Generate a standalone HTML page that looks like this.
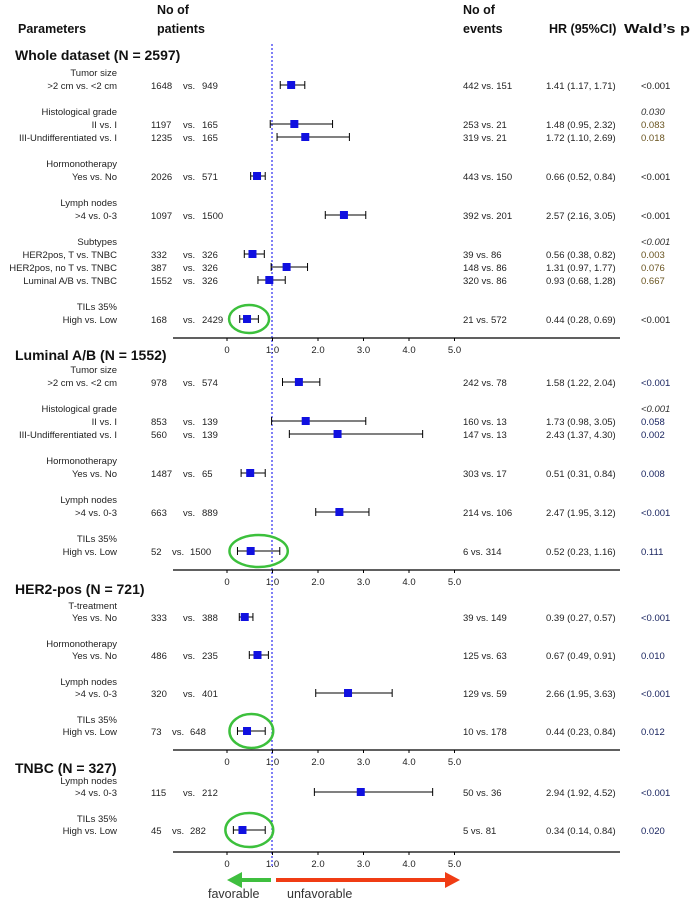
<!DOCTYPE html>
<html><head><meta charset="utf-8">
<style>
html,body{margin:0;padding:0;background:#fff;}
svg{display:block;font-family:"Liberation Sans",sans-serif;}
</style></head>
<body>
<svg id="plot" width="695" height="904" viewBox="0 0 695 904">
  <g font-weight="bold" font-size="12.5" fill="#111">
    <text x="18" y="33">Parameters</text>
    <text x="157" y="14">No of</text>
    <text x="157" y="33">patients</text>
    <text x="463" y="14">No of</text>
    <text x="463" y="33">events</text>
    <text x="549" y="33">HR (95%CI)</text>
    <text x="624" y="33" textLength="66" lengthAdjust="spacingAndGlyphs">Wald’s p</text>
  </g>
  <line x1="272" y1="44" x2="272" y2="866" stroke="#0000ee" stroke-width="1" stroke-dasharray="2,2"/>
  <g id="content"></g>
  <g>
    <line x1="240" y1="880" x2="271" y2="880" stroke="#3fbf3f" stroke-width="4"/>
    <polygon points="227,880 242,872 242,888" fill="#3fbf3f"/>
    <line x1="276" y1="880" x2="445" y2="880" stroke="#f03c14" stroke-width="4"/>
    <polygon points="460,880 445,872 445,888" fill="#f03c14"/>
    <text x="208" y="898" font-size="12.5" fill="#333">favorable</text>
    <text x="287" y="898" font-size="12.5" fill="#333">unfavorable</text>
  </g>
</svg>
<script>
// ---- data ----
var sectionTitles = ["Whole dataset (N = 2597)","Luminal A/B (N = 1552)","HER2-pos (N = 721)","TNBC (N = 327)"];
var sectionOf = [0,0,0,0,0,0,0,0,0, 1,1,1,1,1,1, 2,2,2,2, 3,3];
var groupLabels = ["Tumor size","Histological grade","","Hormonotherapy","Lymph nodes","Subtypes","","","TILs 35%",
 "Tumor size","Histological grade","","Hormonotherapy","Lymph nodes","TILs 35%",
 "T-treatment","Hormonotherapy","Lymph nodes","TILs 35%",
 "Lymph nodes","TILs 35%"];
var rowLabels = [">2 cm vs. <2 cm","II vs. I","III-Undifferentiated vs. I","Yes vs. No",">4 vs. 0-3","HER2pos, T vs. TNBC","HER2pos, no T vs. TNBC","Luminal A/B vs. TNBC","High vs. Low",
 ">2 cm vs. <2 cm","II vs. I","III-Undifferentiated vs. I","Yes vs. No",">4 vs. 0-3","High vs. Low",
 "Yes vs. No","Yes vs. No",">4 vs. 0-3","High vs. Low",
 ">4 vs. 0-3","High vs. Low"];
var patients1 = [1648,1197,1235,2026,1097,332,387,1552,168, 978,853,560,1487,663,52, 333,486,320,73, 115,45];
var patients2 = [949,165,165,571,1500,326,326,326,2429, 574,139,139,65,889,1500, 388,235,401,648, 212,282];
var events1 = [442,253,319,443,392,39,148,320,21, 242,160,147,303,214,6, 39,125,129,10, 50,5];
var events2 = [151,21,21,150,201,86,86,86,572, 78,13,13,17,106,314, 149,63,59,178, 36,81];
var hrValues = [1.41,1.48,1.72,0.66,2.57,0.56,1.31,0.93,0.44, 1.58,1.73,2.43,0.51,2.47,0.52, 0.39,0.67,2.66,0.44, 2.94,0.34];
var ciLow = [1.17,0.95,1.10,0.52,2.16,0.38,0.97,0.68,0.28, 1.22,0.98,1.37,0.31,1.95,0.23, 0.27,0.49,1.95,0.23, 1.92,0.14];
var ciHigh = [1.71,2.32,2.69,0.84,3.05,0.82,1.77,1.28,0.69, 2.04,3.05,4.30,0.84,3.12,1.16, 0.57,0.91,3.63,0.84, 4.52,0.84];
var pValues = ["<0.001","0.083","0.018","<0.001","<0.001","0.003","0.076","0.667","<0.001",
 "<0.001","0.058","0.002","0.008","<0.001","0.111",
 "<0.001","0.010","<0.001","0.012",
 "<0.001","0.020"];
var groupP = ["","0.030","","","","<0.001","","","", "","<0.001","","","","", "","","","", "",""];
var highlighted = [8,14,18,20];
var tickValues = [0,1,2,3,4,5];
var tickLabels = ["0","1.0","2.0","3.0","4.0","5.0"];

// ---- layout ----
var NS="http://www.w3.org/2000/svg";
var root=document.getElementById('content');
function xScale(v){return 227+v*45.5;}
var headerY=[55,355,589,768];
var firstLabelY=[72,369,605,780];
var axisY=[338,570,750,852];
var sectionGap=[[13,13,26],[13,13,26],[12,12,26],[12,12,26]];
function mk(tag,attrs,txt){var e=document.createElementNS(NS,tag);for(var k in attrs)e.setAttribute(k,attrs[k]);if(txt!==undefined)e.textContent=txt;root.appendChild(e);return e;}

for(var s=0;s<sectionTitles.length;s++){
  var t=mk('text',{x:15,y:headerY[s]+5,'font-size':'14','font-weight':'bold',fill:'#111'},sectionTitles[s]);
  
  
  var ax=mk('line',{x1:173,y1:axisY[s],x2:620,y2:axisY[s],stroke:'#000','stroke-width':1.2});
  
  
  for(var k=0;k<tickValues.length;k++){
    var tx=xScale(tickValues[k]);
    var tk=mk('line',{x1:tx,y1:axisY[s],x2:tx,y2:axisY[s]+3,stroke:'#000'});
    
    
    var tl=mk('text',{x:tx,y:axisY[s]+15,'font-size':'9.5','text-anchor':'middle',fill:'#222'},tickLabels[k]);
    
    
  }
}

var y=0,prevSec=-1;
for(var i=0;i<hrValues.length;i++){
  var s=sectionOf[i];
  var gaps=sectionGap[s];
  if(s!==prevSec){y=firstLabelY[s];prevSec=s;}
  else if(groupLabels[i]!==""){y+=gaps[2];}
  var rowY;
  if(groupLabels[i]!==""){
    var g=mk('text',{x:117,y:y+4,'font-size':'9.5','text-anchor':'end',fill:'#222'},groupLabels[i]);
    
    
    if(groupP[i]!==""){
      var gp=mk('text',{x:641,y:y+4,'font-size':'9.5','font-style':'italic',fill:'#333'},groupP[i]);
      
      
    }
    rowY=y+gaps[0];
  } else {
    rowY=y+gaps[1];
  }
  y=rowY;
  var rl=mk('text',{x:117,y:rowY+4,'font-size':'9.5','text-anchor':'end',fill:'#222'},rowLabels[i]);
  
  
  var np1=mk('text',{x:151,y:rowY+4,'font-size':'9.5',fill:'#222'},String(patients1[i]));
  
  
  var wide=String(patients1[i]).length>=3;
  var nv=mk('text',{x:wide?183:172,y:rowY+4,'font-size':'9.5',fill:'#222'},'vs.');
  
  
  var np2=mk('text',{x:wide?202:190,y:rowY+4,'font-size':'9.5',fill:'#222'},String(patients2[i]));
  
  
  var ne=mk('text',{x:463,y:rowY+4,'font-size':'9.5',fill:'#222','xml:space':'preserve'},events1[i]+'  vs.  '+events2[i]);
  
  
  var hr=mk('text',{x:546,y:rowY+4,'font-size':'9.5',fill:'#222'},hrValues[i].toFixed(2)+' ('+ciLow[i].toFixed(2)+', '+ciHigh[i].toFixed(2)+')');
  
  
  var pc = s===0 && pValues[i]!=="<0.001" ? '#6a5520' : (s===0 ? '#222' : '#1a2560');
  var pv=mk('text',{x:641,y:rowY+4,'font-size':'9.5',fill:pc},pValues[i]);
  
  
  var x1=xScale(ciLow[i]),x2=xScale(ciHigh[i]);
  var ci=mk('line',{x1:x1,y1:rowY,x2:x2,y2:rowY,stroke:'#000','stroke-width':1});
  
  
  var c1=mk('line',{x1:x1,y1:rowY-4,x2:x1,y2:rowY+4,stroke:'#000'});
  
  
  var c2=mk('line',{x1:x2,y1:rowY-4,x2:x2,y2:rowY+4,stroke:'#000'});
  
  
  var sq=mk('rect',{x:xScale(hrValues[i])-4,y:rowY-4,width:8,height:8,fill:'#1010e0'});
  
  
  if(highlighted.indexOf(i)>=0){
    var cx=(x1+x2)/2, rx=Math.max(20,(x2-x1)/2+8), ry=(s===1?16:(s===0?14:17));
    var el=mk('ellipse',{cx:cx,cy:rowY,rx:rx,ry:ry,fill:'none',stroke:'#3cc03c','stroke-width':2.5});
    
    
  }
}
</script>
</body></html>
